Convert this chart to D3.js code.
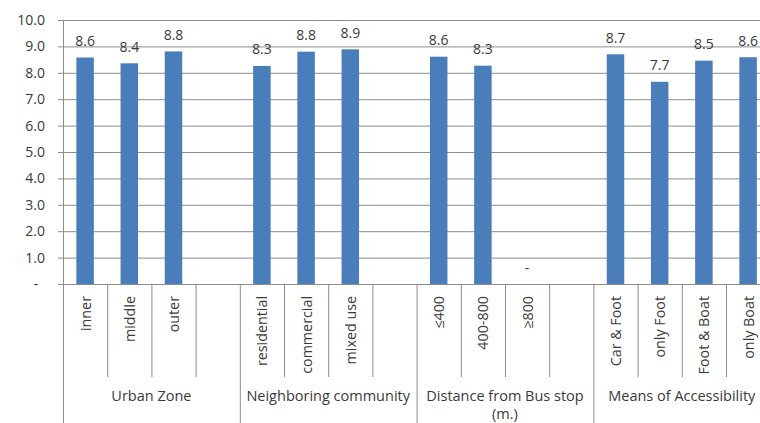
<!DOCTYPE html>
<html><head><meta charset="utf-8">
<script src="https://cdn.jsdelivr.net/npm/d3@7"></script>
<style>
html,body{margin:0;padding:0;background:#fff;overflow:hidden}
text{font-family:"Open Sans",Lato,sans-serif;fill:#3a3a3a}
</style></head>
<body><svg id="c" width="760" height="423"></svg>
<script>
const groupLabels = ["Urban Zone", "Neighboring community", "Distance from Bus stop\n(m.)", "Means of Accessibility"];
const categories = ["inner","middle","outer","residential","commercial","mixed use","≤400","400-800","≥800","Car & Foot","only Foot","Foot & Boat","only Boat"];
const categoryGroup = [0,0,0,1,1,1,2,2,2,3,3,3,3];
const values = [8.58, 8.36, 8.81, 8.26, 8.80, 8.89, 8.61, 8.27, null, 8.70, 7.66, 8.46, 8.59];
const yTicks = [0,1,2,3,4,5,6,7,8,9,10];
const slotsPerGroup = 4;

(function(){
const svg = d3.select("#c");
const mLeft = 63, mTop = 20, mBottom = 284, slotW = 44.2;
const nSlots = groupLabels.length * slotsPerGroup;
const slotKeys = d3.range(nSlots);
const x = d3.scaleBand().domain(slotKeys).range([mLeft, mLeft + nSlots*slotW]).padding(0);
const y = d3.scaleLinear().domain([0,10]).range([mBottom, mTop]);

const withinCount = {};
const slotOf = categories.map((c,i)=>{
  const g = categoryGroup[i];
  withinCount[g] = (withinCount[g]||0);
  const s = g*slotsPerGroup + withinCount[g];
  withinCount[g]++;
  return s;
});

const grid = "#8c8c8c";
const mRight = mLeft + nSlots*slotW;
svg.append("g").selectAll("line").data(yTicks).join("line")
  .attr("x1", mLeft-5).attr("x2", mRight)
  .attr("y1", d=>y(d)+0.5).attr("y2", d=>y(d)+0.5)
  .attr("stroke", grid).attr("stroke-width", 1);
svg.append("g").selectAll("text").data(yTicks).join("text")
  .attr("x", d=> d===0 ? 36 : 45).attr("y", d=>y(d)+5)
  .attr("text-anchor", d=> d===0 ? "middle":"end")
  .attr("font-size", 14)
  .text(d=> d===0 ? "-" : d3.format(".1f")(d));
svg.append("line").attr("x1", mLeft+0.5).attr("x2", mLeft+0.5).attr("y1", mTop).attr("y2", 423)
  .attr("stroke", grid);

const bw = 17.5;
svg.append("g").selectAll("rect").data(values.map((v,i)=>({v,i})).filter(d=>d.v!=null)).join("rect")
  .attr("x", d=> x(slotOf[d.i]) + x.bandwidth()/2 - bw/2)
  .attr("width", bw)
  .attr("y", d=> y(d.v))
  .attr("height", d=> y(0)-y(d.v))
  .attr("fill", "#4a7ebb");
svg.append("g").selectAll("text").data(values.map((v,i)=>({v,i}))).join("text")
  .attr("x", d=> x(slotOf[d.i]) + x.bandwidth()/2)
  .attr("y", d=> y(d.v==null?0:d.v) - 11.5)
  .attr("text-anchor","middle").attr("font-size", 14)
  .text(d=> d.v==null ? "-" : d3.format(".1f")(d.v));

svg.append("g").selectAll("line").data(d3.range(1,nSlots+1)).join("line")
  .attr("x1", d=> x.range()[0] + d*x.bandwidth() + 0.5)
  .attr("x2", d=> x.range()[0] + d*x.bandwidth() + 0.5)
  .attr("y1", mBottom)
  .attr("y2", d=> d%slotsPerGroup===0 ? 423 : 377)
  .attr("stroke", grid);

svg.append("g").selectAll("text").data(categories).join("text")
  .attr("transform", (d,i)=>`translate(${x(slotOf[i]) + x.bandwidth()/2 + 5.5},296) rotate(-90)`)
  .attr("text-anchor","end").attr("font-size", 14.3)
  .text(d=>d);

groupLabels.forEach((g,gi)=>{
  const cx = x(gi*slotsPerGroup) + slotsPerGroup*x.bandwidth()/2;
  const lines = g.split("\n");
  lines.forEach((line,li)=>{
    svg.append("text").attr("text-anchor","middle").attr("font-size", 14.5)
      .attr("x", cx).attr("y", 401 + li*17.5).text(line);
  });
});
})();
</script></body></html>
